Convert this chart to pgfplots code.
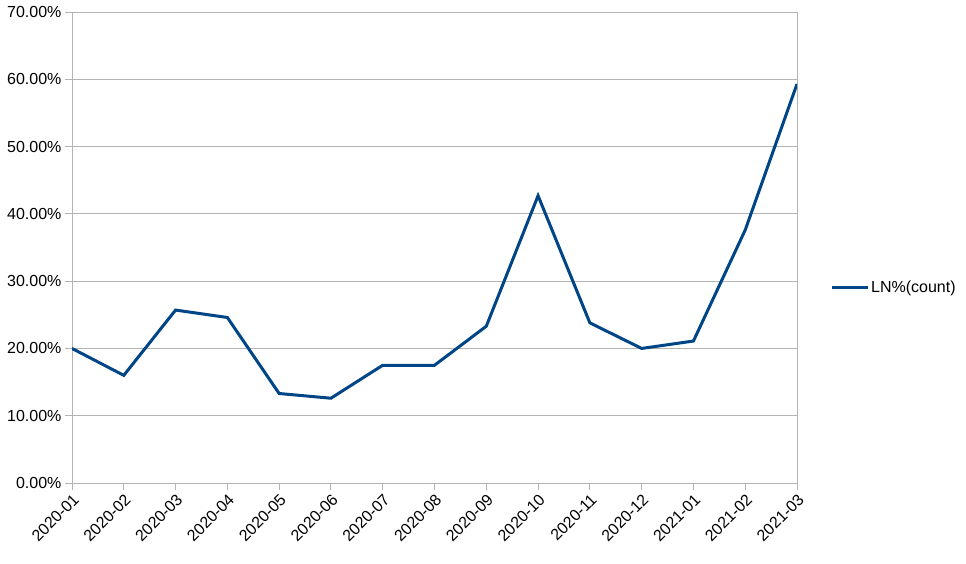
\documentclass[border=0pt]{standalone}
\usepackage{pgfplots}
\pgfplotsset{compat=1.18}
\usepackage{fontspec}
\setmainfont{Liberation Sans}
\definecolor{series}{HTML}{004586}
\definecolor{gridc}{HTML}{B3B3B3}
\begin{document}
\begin{tikzpicture}
\begin{axis}[
 at={(0pt,0pt)}, anchor=south west,
 scale only axis, width=725pt, height=471pt,
 xmin=0, xmax=14, ymin=0, ymax=70,
 xtick={0,...,14},
 xticklabels={2020-01,2020-02,2020-03,2020-04,2020-05,2020-06,2020-07,2020-08,2020-09,2020-10,2020-11,2020-12,2021-01,2021-02,2021-03},
 ytick={0,10,...,70},
 yticklabels={0.00\%,10.00\%,20.00\%,30.00\%,40.00\%,50.00\%,60.00\%,70.00\%},
 ymajorgrids, major grid style={gridc, line width=1pt},
 axis line style={gridc, line width=1pt},
 tick style={gridc, line width=1pt},
 tick align=outside, major tick length=7pt,
 xtick pos=bottom, ytick pos=left,
 tick label style={font=\fontsize{16}{19}\selectfont, black},
 x tick label style={rotate=45, anchor=north east, inner sep=2pt},
 legend style={draw=none, fill=none, at={(1.0455,0.416)}, anchor=west, inner sep=0pt,
   font=\fontsize{16}{19}\selectfont},
 legend image code/.code={\draw[#1] (0pt,0pt) -- (36pt,0pt);},
]
\addplot[series, line width=3pt] coordinates {
(0,20.0) (1,16.0) (2,25.7) (3,24.6) (4,13.3) (5,12.6) (6,17.5) (7,17.5)
(8,23.3) (9,42.7) (10,23.8) (11,20.0) (12,21.1) (13,37.6) (14,59.3)};
\addlegendentry{LN\%(count)}
\end{axis}
\pgfresetboundingbox
\path[use as bounding box] (-72pt,-80pt) rectangle (894pt,483pt);
\end{tikzpicture}
\end{document}
